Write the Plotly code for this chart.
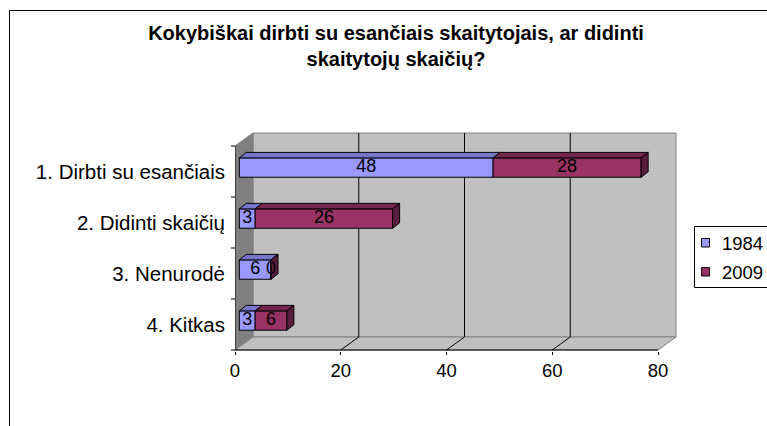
import plotly.graph_objects as go

# ---------------- data ----------------
categories = ["1. Dirbti su esančiais", "2. Didinti skaičių", "3. Nenurodė", "4. Kitkas"]
series_names = ["1984", "2009"]
values_1984 = [48, 3, 6, 3]
values_2009 = [28, 26, 0, 6]
x_ticks = [0, 20, 40, 60, 80]

# ---------------- layout constants ----------------
W, H = 767, 426
PL, PR, PT, PB = 235, 678, 131, 351          # plot-area pixel box
X_MAX_AXIS = 80
SX = 423 / 80.0                               # px per x unit
SY = 51.0                                     # px per category
x_range = [0, (PR - PL) / SX]
y_top = -0.5 - (146 - PT) / SY
y_bot = 3.5 + (PB - 350) / SY
DX = 18 / SX                                  # wall depth (x units)
DY = 13 / SY                                  # wall depth (y units)
BDX = 7 / SX                                  # bar depth
BDY = 5.5 / SY
BAR_H = 0.38
BAR_SHIFT = 0.077
BAR_XOFF = 4.3 / SX

def px(xp):
    return (xp - PL) / (PR - PL)

def py(yp):
    return (PB - yp) / (PB - PT)

FONT = "Liberation Sans, Arial, sans-serif"
front_cols = ["#9999FF", "#993366"]
top_cols = ["#7676CC", "#74264D"]
side_cols = ["#5F5FA0", "#5A1E3C"]

fig = go.Figure()
shapes = []
annotations = []

# ---------------- 3D box (walls, floor, grid) ----------------
yb_wall = 3.5 - DY
yt_wall = -0.5 - DY
shapes.append(dict(type="rect", xref="x", yref="y", x0=DX, x1=X_MAX_AXIS + DX, y0=yt_wall, y1=yb_wall,
                   fillcolor="#C0C0C0", line=dict(color="#808080", width=1), layer="below"))
shapes.append(dict(type="path", xref="x", yref="y",
                   path=f"M0,-0.5 L{DX},{yt_wall} L{DX},{yb_wall} L0,3.5 Z",
                   fillcolor="#808080", line=dict(color="#808080", width=1), layer="below"))
shapes.append(dict(type="path", xref="x", yref="y",
                   path=f"M0,3.5 L{X_MAX_AXIS},3.5 L{X_MAX_AXIS + DX},{yb_wall} L{DX},{yb_wall} Z",
                   fillcolor="#C0C0C0", line=dict(color="#808080", width=1), layer="below"))
for t in x_ticks[1:-1]:
    shapes.append(dict(type="line", xref="x", yref="y", x0=t + DX, x1=t + DX, y0=yt_wall, y1=yb_wall,
                       line=dict(color="#000000", width=1), layer="below"))
    shapes.append(dict(type="line", xref="x", yref="y", x0=t, x1=t + DX, y0=3.5, y1=yb_wall,
                       line=dict(color="#000000", width=1), layer="below"))
shapes.append(dict(type="line", xref="x", yref="y", x0=0, x1=X_MAX_AXIS, y0=3.5, y1=3.5,
                   line=dict(color="#000000", width=1)))
shapes.append(dict(type="line", xref="x", yref="y", x0=0, x1=0, y0=-0.5, y1=3.5,
                   line=dict(color="#000000", width=1)))
for b in [-0.5, 0.5, 1.5, 2.5, 3.5]:
    shapes.append(dict(type="line", xref="paper", yref="y", x0=px(231), x1=px(235), y0=b, y1=b,
                       line=dict(color="#000000", width=1)))

# chart frame
shapes.append(dict(type="rect", xref="paper", yref="paper", x0=px(9.5), x1=px(790), y0=py(10.5), y1=py(450),
                   line=dict(color="#000000", width=1), fillcolor="rgba(0,0,0,0)", layer="below"))

# ---------------- bars ----------------
series = [values_1984, values_2009]
cum = [0.0] * len(categories)
seg = []
for si, vals in enumerate(series):
    bases = [cum[i] + BAR_XOFF for i in range(len(categories))]
    seg.append((bases, vals))
    cum = [cum[i] + vals[i] for i in range(len(categories))]

last = len(series) - 1
label_x, label_y, label_t = [], [], []
for si, (bases, vals) in enumerate(seg):
    fig.add_trace(go.Bar(
        name=series_names[si], orientation="h", y=list(range(len(categories))), x=vals, base=bases,
        width=BAR_H, offset=-BAR_SHIFT - BAR_H / 2,
        marker=dict(color=front_cols[si], line=dict(color="#000000", width=1)),
        hovertemplate="%{y}: %{x}<extra>" + series_names[si] + "</extra>",
        showlegend=False,
    ))
    for ci in range(len(categories)):
        a = bases[ci]
        b = a + vals[ci]
        yt = ci - BAR_SHIFT - BAR_H / 2
        yb = yt + BAR_H
        # top face
        fig.add_trace(go.Scatter(
            x=[a, b, b + BDX, a + BDX, a], y=[yt, yt, yt - BDY, yt - BDY, yt],
            mode="lines", fill="toself", fillcolor=top_cols[si],
            line=dict(color="#000000", width=1), showlegend=False, hoverinfo="skip"))
        # right side face only at the outer end of the stack
        if si == last:
            fig.add_trace(go.Scatter(
                x=[b, b + BDX, b + BDX, b, b], y=[yt, yt - BDY, yb - BDY, yb, yt],
                mode="lines", fill="toself", fillcolor=side_cols[si],
                line=dict(color="#000000", width=1), showlegend=False, hoverinfo="skip"))
        label_x.append(a + vals[ci] / 2)
        label_y.append(ci - BAR_SHIFT)
        label_t.append(str(vals[ci]))

fig.add_trace(go.Scatter(x=label_x, y=label_y, text=label_t, mode="text",
                         textfont=dict(family=FONT, size=18, color="#000000"),
                         showlegend=False, hoverinfo="skip"))

# ---------------- legend (drawn) ----------------
LEG_L, LEG_T, LEG_B = 694.5, 226.5, 287.5
shapes.append(dict(type="rect", xref="paper", yref="paper", x0=px(LEG_L), x1=px(800), y0=py(LEG_T), y1=py(LEG_B),
                   line=dict(color="#000000", width=1), fillcolor="#FFFFFF"))
leg_rows = [243, 272]
for i, name in enumerate(series_names):
    cy = leg_rows[i]
    shapes.append(dict(type="rect", xref="paper", yref="paper",
                       x0=px(701.5), x1=px(709.5), y0=py(cy - 4.5), y1=py(cy + 4),
                       line=dict(color="#000000", width=1), fillcolor=front_cols[i]))
    annotations.append(dict(xref="paper", yref="paper", x=px(720), y=py(cy), xanchor="left", yanchor="middle",
                            text=name, showarrow=False,
                            font=dict(family=FONT, size=18.5, color="#000000")))

fig.update_layout(
    width=W, height=H,
    margin=dict(l=PL, r=W - PR, t=PT, b=H - PB, pad=0, autoexpand=False),
    paper_bgcolor="#FFFFFF", plot_bgcolor="rgba(0,0,0,0)",
    barmode="overlay",
    shapes=shapes,
    annotations=annotations,
    title=dict(text="Kokybiškai dirbti su esančiais skaitytojais, ar didinti<br>skaitytojų skaičių?",
               x=396 / W, xanchor="center", y=1 - 40 / H, yanchor="top",
               font=dict(family=FONT, size=20, color="#000000", weight="bold")),
    xaxis=dict(range=x_range, tickvals=x_ticks, ticktext=[str(t) for t in x_ticks],
               showgrid=False, zeroline=False, showline=False,
               ticks="outside", ticklen=3, tickcolor="#000000",
               tickfont=dict(family=FONT, size=18.5, color="#000000")),
    yaxis=dict(range=[y_bot, y_top], tickvals=list(range(len(categories))), ticktext=categories,
               showgrid=False, zeroline=False, showline=False, ticks="",
               ticklabelstandoff=9,
               tickfont=dict(family=FONT, size=20.5, color="#000000")),
    showlegend=False,
)

fig.write_html("out.html", post_script="document.body.style.margin='0';",
               config={"displayModeBar": False})
